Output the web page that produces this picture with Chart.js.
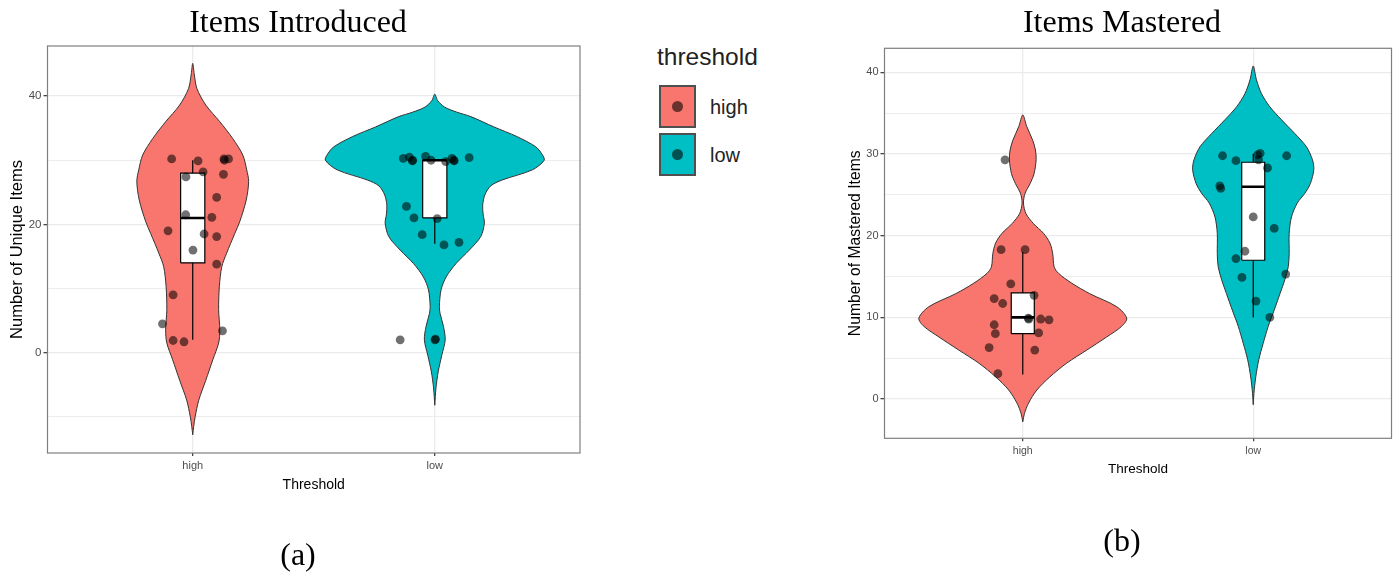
<!DOCTYPE html>
<html>
<head>
<meta charset="utf-8">
<script src="https://cdn.jsdelivr.net/npm/chart.js@4.4.1/dist/chart.umd.min.js"></script>
<style>
  html, body { margin: 0; padding: 0; background: #ffffff; }
  body { position: relative; width: 1399px; height: 576px; overflow: hidden;
         font-family: 'Liberation Sans', Arial, sans-serif; }
  canvas { position: absolute; top: 0; }
  #panelA { left: 0; }
  #panelB { left: 845px; }
  .lg-title { position: absolute; left: 657px; top: 43px; font-size: 24.5px; line-height: 28px; color: #222; }
  .lg-key { position: absolute; left: 659px; width: 37px; height: 43px; box-sizing: border-box;
            border: 2.5px solid #4f4f4f; }
  .lg-key span { position: absolute; left: 50%; top: 50%; width: 11px; height: 11px; margin: -5.5px 0 0 -5.5px;
                 border-radius: 50%; background: rgba(0,0,0,0.58); }
  .lg-label { position: absolute; left: 710px; font-size: 20px; line-height: 24px; color: #222; }
</style>
</head>
<body>
<canvas id="panelA" width="596" height="576"></canvas>
<canvas id="panelB" width="554" height="576"></canvas>

<div class="lg-title">threshold</div>
<div class="lg-key" style="top:85px;background:#F8766D"><span></span></div>
<div class="lg-label" style="top:95px">high</div>
<div class="lg-key" style="top:133px;background:#00BFC4"><span></span></div>
<div class="lg-label" style="top:143px">low</div>

<script>
// ---- categories and colours ----
const categories = ['high', 'low'];
const groupColors = ['#F8766D', '#00BFC4'];

// ---- Items Introduced: violin outline (value, half-width in category units), top to bottom ----
const introHighY = [45.1, 43.5, 41.2, 38.6, 36.0, 33.4, 30.8, 28.5, 26.7, 23.8, 20.4, 18.6, 15.5, 13.4, 10.3, 6.7, 3.5, 1.5, -1.1, -4.3, -7.4, -10.0, -11.5, -12.8];
const introHighW = [0, 0.006, 0.017, 0.054, 0.112, 0.165, 0.207, 0.223, 0.231, 0.221, 0.194, 0.174, 0.140, 0.120, 0.110, 0.107, 0.112, 0.107, 0.083, 0.054, 0.025, 0.010, 0.004, 0];
const introLowY = [40.3, 39.3, 38.3, 37.5, 36.8, 35.2, 33.7, 32.1, 31.0, 30.0, 28.5, 26.9, 26.0, 24.6, 23.0, 21.5, 20.2, 18.1, 16.0, 13.9, 11.8, 9.8, 7.2, 6.1, 4.1, 2.0, -0.4, -3.0, -5.5, -8.2];
const introLowW = [0, 0.012, 0.040, 0.091, 0.149, 0.244, 0.339, 0.417, 0.442, 0.452, 0.403, 0.277, 0.231, 0.207, 0.198, 0.200, 0.205, 0.190, 0.143, 0.088, 0.047, 0.026, 0.019, 0.022, 0.036, 0.043, 0.029, 0.014, 0.005, 0];

// ---- Items Mastered: violin outline ----
const masterHighY = [34.8, 33.4, 31.7, 30.5, 29.3, 27.6, 26.4, 25.2, 24.0, 22.7, 21.5, 20.3, 19.1, 17.8, 16.2, 15.4, 14.2, 12.9, 11.3, 9.9, 8.9, 7.6, 6.0, 4.4, 2.7, 1.1, -0.5, -1.8, -2.8];
const masterHighW = [0, 0.017, 0.043, 0.055, 0.058, 0.049, 0.032, 0.010, 0.003, 0.014, 0.046, 0.090, 0.118, 0.130, 0.136, 0.155, 0.212, 0.291, 0.408, 0.451, 0.429, 0.364, 0.278, 0.191, 0.117, 0.061, 0.025, 0.007, 0];
const masterLowY = [40.8, 39.1, 37.4, 35.8, 34.2, 32.5, 30.9, 29.3, 28.1, 26.4, 25.2, 24.0, 22.3, 20.3, 17.8, 16.2, 14.6, 12.9, 10.9, 8.9, 6.8, 4.8, 2.7, 0.7, -0.7];
const masterLowW = [0, 0.014, 0.036, 0.072, 0.123, 0.181, 0.231, 0.257, 0.263, 0.248, 0.224, 0.191, 0.166, 0.156, 0.156, 0.152, 0.137, 0.116, 0.091, 0.065, 0.043, 0.024, 0.011, 0.003, 0];

// ---- box plot statistics: [lower whisker, Q1, median, Q3, upper whisker] ----
const introHighBox = [2, 14, 21, 28, 30];
const introLowBox = [17, 21, 30, 30, 30];
const masterHighBox = [3, 8, 10, 13, 18];
const masterLowBox = [10, 17, 26, 29, 30];

// ---- jittered observations: horizontal offset from the category, value ----
const introHighDx = [-0.087, 0.022, 0.129, 0.131, 0.148, 0.043, -0.028, 0.127, 0.099, -0.029, 0.079, -0.102, 0.047, 0.099, 0.001, 0.099, -0.081, -0.125, 0.123, -0.081, -0.036];
const introHighVals = [30.2, 29.9, 30.2, 30.0, 30.2, 28.2, 27.4, 27.8, 24.2, 21.5, 21.1, 19.0, 18.5, 18.1, 16.0, 13.8, 9.0, 4.5, 3.4, 1.9, 1.7];
const introLowDx = [-0.130, -0.105, -0.093, -0.091, -0.038, -0.015, 0.045, 0.071, 0.080, 0.079, 0.142, -0.117, -0.086, 0.010, -0.052, 0.038, 0.100, -0.143, 0.001, 0.003];
const introLowVals = [30.3, 30.5, 29.9, 30.0, 30.6, 30.0, 29.8, 30.3, 29.9, 30.0, 30.4, 22.8, 21.0, 20.9, 18.4, 16.8, 17.2, 2.0, 2.0, 2.1];
const masterHighDx = [-0.077, -0.094, 0.010, -0.052, -0.124, -0.087, 0.049, 0.024, 0.026, 0.078, 0.114, -0.124, -0.119, 0.069, -0.146, 0.052, -0.108];
const masterHighVals = [29.3, 18.3, 18.3, 14.1, 12.3, 11.7, 12.7, 9.9, 9.8, 9.8, 9.7, 9.1, 8.0, 8.1, 6.3, 6.0, 3.1];
const masterLowDx = [-0.133, -0.075, 0.019, 0.030, 0.023, 0.062, 0.145, -0.145, -0.141, 0, 0.091, -0.036, -0.075, -0.049, 0.141, 0.012, 0.072];
const masterLowVals = [29.8, 29.2, 29.9, 30.1, 29.3, 28.3, 29.8, 26.1, 25.8, 22.3, 20.9, 18.1, 17.2, 14.9, 15.3, 12.0, 10.0];

// ---- axis ticks (all draw grid lines, labelled ones get text) ----
const introTicks = [-10, 0, 10, 20, 30, 40];
const introLabelled = [0, 20, 40];
const masterTicks = [0, 5, 10, 15, 20, 25, 30, 35, 40];
const masterLabelled = [0, 10, 20, 30, 40];

const SANS = "'Liberation Sans', Arial, sans-serif";
const SERIF = "'Liberation Serif', 'Times New Roman', serif";
const BOX_HALF = 0.05;

// closed outline: up the right side, back down the left side
function violinOutline(center, ys, ws) {
  const up = ys.map((y, i) => ({ x: center + ws[i], y })).reverse();
  const down = ys.map((y, i) => ({ x: center - ws[i], y })).slice(1);
  return up.concat(down);
}

function boxOutline(center, s) {
  return [
    { x: center - BOX_HALF, y: s[1] }, { x: center + BOX_HALF, y: s[1] },
    { x: center + BOX_HALF, y: s[3] }, { x: center - BOX_HALF, y: s[3] },
    { x: center - BOX_HALF, y: s[1] }
  ];
}

function groupDatasets(center, color, vy, vw, box, dx, vals) {
  const line = { type: 'line', pointRadius: 0, tension: 0, fill: false, borderColor: '#000', borderWidth: 1.2 };
  return [
    { ...line, data: violinOutline(center, vy, vw), fill: 'shape', backgroundColor: color,
      borderColor: '#333333', borderWidth: 1, tension: 0.3, order: 6 },
    { ...line, data: [{ x: center, y: box[0] }, { x: center, y: box[1] }], order: 5 },
    { ...line, data: [{ x: center, y: box[3] }, { x: center, y: box[4] }], order: 5 },
    { ...line, data: boxOutline(center, box), fill: 'shape', backgroundColor: '#ffffff', order: 4 },
    { ...line, data: [{ x: center - BOX_HALF, y: box[2] }, { x: center + BOX_HALF, y: box[2] }],
      borderWidth: 2.6, borderCapStyle: 'butt', order: 3 },
    { type: 'scatter', data: dx.map((d, i) => ({ x: center + d, y: vals[i] })),
      pointRadius: 4.4, pointBorderWidth: 0, pointBackgroundColor: 'rgba(0,0,0,0.56)', order: 1 }
  ];
}

const panelBorder = {
  id: 'panelBorder',
  afterDatasetsDraw(chart) {
    const { ctx, chartArea: a } = chart;
    ctx.save();
    ctx.strokeStyle = '#7f7f7f';
    ctx.lineWidth = 1.2;
    ctx.strokeRect(a.left, a.top, a.right - a.left, a.bottom - a.top);
    ctx.restore();
  }
};

function makePanel(canvas, p) {
  const datasets = [
    ...groupDatasets(1, groupColors[0], p.highY, p.highW, p.highBox, p.highDx, p.highVals),
    ...groupDatasets(2, groupColors[1], p.lowY, p.lowW, p.lowBox, p.lowDx, p.lowVals)
  ];
  return new Chart(canvas, {
    type: 'scatter',
    data: { datasets },
    plugins: [panelBorder],
    options: {
      responsive: false,
      animation: false,
      events: [],
      layout: { padding: 0 },
      plugins: {
        legend: { display: false },
        tooltip: { enabled: false },
        title: { display: true, text: p.title, color: '#000',
                 font: { family: SERIF, size: 32, weight: 'normal', lineHeight: 1 },
                 padding: { top: 8, bottom: p.titleGap } },
        subtitle: { display: true, position: 'bottom', text: p.caption, color: '#000',
                    font: { family: SERIF, size: 32, weight: 'normal', lineHeight: 1 },
                    padding: { top: p.capTop, bottom: p.capBottom } }
      },
      scales: {
        x: {
          type: 'linear', min: 0.4, max: 2.6,
          afterBuildTicks: s => { s.ticks = categories.map((c, i) => ({ value: i + 1 })); },
          afterFit: s => { s.height = p.xAxisH; },
          ticks: { callback: v => categories[v - 1], color: '#4D4D4D', autoSkip: false, maxRotation: 0,
                   font: { family: SANS, size: p.tickSize }, padding: p.xTickPad },
          grid: { color: '#EBEBEB', lineWidth: 1.3, tickLength: 3, tickColor: '#444' },
          border: { display: false },
          title: { display: true, text: 'Threshold', color: '#000',
                   font: { family: SANS, size: p.titleSize }, padding: { top: 0, bottom: 0 } }
        },
        y: {
          type: 'linear', min: p.yMin, max: p.yMax,
          afterBuildTicks: s => { s.ticks = p.ticks.map(v => ({ value: v })); },
          afterFit: s => { s.width = p.yAxisW; },
          ticks: { callback: v => (p.labelled.includes(v) ? String(v) : ''), color: '#4D4D4D', autoSkip: false,
                   font: { family: SANS, size: p.yTickSize }, padding: p.yTickPad },
          grid: {
            color: '#EBEBEB',
            lineWidth: c => (c.tick && p.labelled.includes(c.tick.value) ? 1.3 : 0.9),
            tickLength: 4,
            tickColor: c => (c.tick && p.labelled.includes(c.tick.value) ? '#444' : 'rgba(0,0,0,0)')
          },
          border: { display: false },
          title: { display: true, text: p.yTitle, color: '#000',
                   font: { family: SANS, size: p.yTitleSize }, padding: { top: p.yTitlePad, bottom: 0 } }
        },
        // empty right-hand margin so titles centre on the whole figure
        margin: {
          type: 'linear', position: 'right', display: true,
          afterFit: s => { s.width = p.padRight; },
          ticks: { display: false }, grid: { display: false }, border: { display: false }
        }
      }
    }
  });
}

makePanel(document.getElementById('panelA'), {
  title: 'Items Introduced', caption: '(a)', yTitle: 'Number of Unique Items',
  highY: introHighY, highW: introHighW, highBox: introHighBox, highDx: introHighDx, highVals: introHighVals,
  lowY: introLowY, lowW: introLowW, lowBox: introLowBox, lowDx: introLowDx, lowVals: introLowVals,
  ticks: introTicks, labelled: introLabelled, yMin: -15.64, yMax: 47.81,
  padRight: 16, titleGap: 6, capTop: 47.6, capBottom: 3, xAxisH: 40.4, yAxisW: 47.5,
  xTickPad: 3, yTickPad: 2, yTitlePad: 7.1, tickSize: 11, yTickSize: 11.5, titleSize: 14, yTitleSize: 16.5
});

makePanel(document.getElementById('panelB'), {
  title: 'Items Mastered', caption: '(b)', yTitle: 'Number of Mastered Items',
  highY: masterHighY, highW: masterHighW, highBox: masterHighBox, highDx: masterHighDx, highVals: masterHighVals,
  lowY: masterLowY, lowW: masterLowW, lowBox: masterLowBox, lowDx: masterLowDx, lowVals: masterLowVals,
  ticks: masterTicks, labelled: masterLabelled, yMin: -4.81, yMax: 42.96,
  padRight: 7.5, titleGap: 8.3, capTop: 49.6, capBottom: 17, xAxisH: 39.1, yAxisW: 39.5,
  xTickPad: 4, yTickPad: 2, yTitlePad: 1.6, tickSize: 10.5, yTickSize: 11, titleSize: 13.5, yTitleSize: 15.7
});
</script>
</body>
</html>
